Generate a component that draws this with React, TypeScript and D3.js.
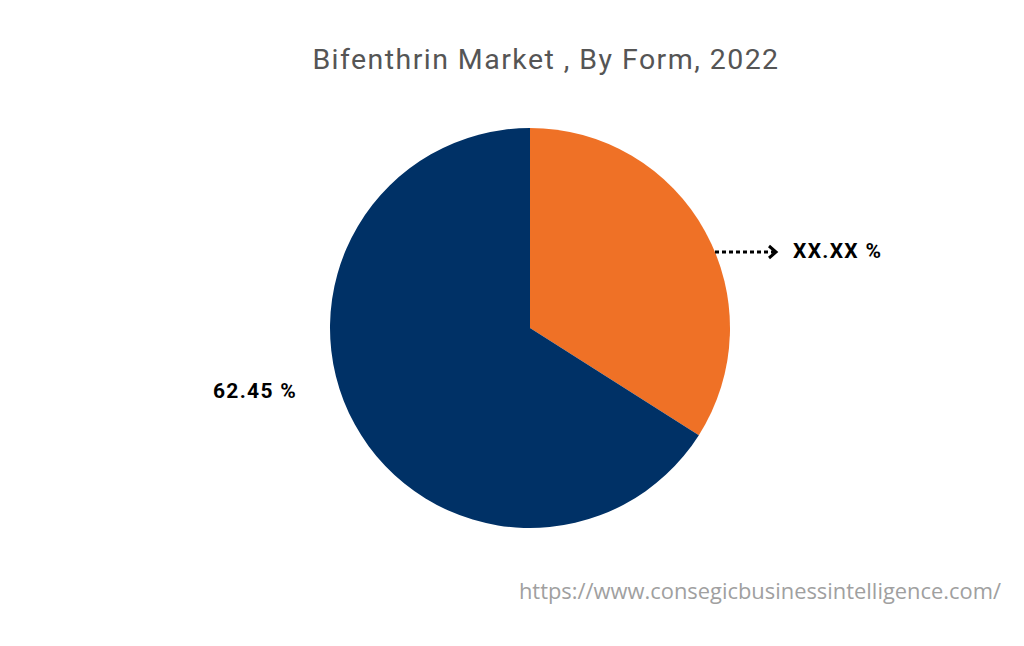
import React from "react";
import * as d3 from "d3";

const categories = ["Form A", "Form B"];
const values = [34, 66];
const labels = ["XX.XX %", "62.45 %"];
const colors = ["#EF7126", "#003166"];
const title = "Bifenthrin Market , By Form, 2022";
const source = "https://www.consegicbusinessintelligence.com/";

export default function App() {
  const W = 1024, H = 646;
  const cx = 530, cy = 328, r = 200;
  const pie = d3.pie<number>().sort(null).value((d) => d)(values);
  const arc = d3.arc<d3.PieArcDatum<number>>().innerRadius(0).outerRadius(r);
  return (
    <svg width={W} height={H} style={{ position: "absolute", left: 0, top: 0, background: "#fff" }}>
      <rect width={W} height={H} fill="#fff" />
      <text x={546} y={69} textAnchor="middle" fontFamily="Roboto, 'Open Sans', sans-serif" fontSize={28.5} letterSpacing={1.45} fill="#555">{title}</text>
      <g transform={`translate(${cx},${cy})`}>
        {pie.map((p, i) => (
          <path key={categories[i]} d={arc(p) || ""} fill={colors[i]} />
        ))}
      </g>
      <line x1={715} y1={252} x2={774} y2={252} stroke="#000" strokeWidth={3} strokeDasharray="4,3" />
      <path d="M769,246 L776,252 L769,258" fill="none" stroke="#000" strokeWidth={3} />
      <text x={793} y={258} fontFamily="Roboto, 'Open Sans', sans-serif" fontWeight="bold" fontSize={21} letterSpacing={1.3} fill="#000">{labels[0]}</text>
      <text x={213} y={398} fontFamily="Roboto, 'Open Sans', sans-serif" fontWeight="bold" fontSize={21} letterSpacing={1.3} fill="#000">{labels[1]}</text>
      <text x={1001} y={599} textAnchor="end" fontFamily="'Open Sans', Roboto, sans-serif" fontSize={21.9} fill="#a0a0a0">{source}</text>
    </svg>
  );
}
